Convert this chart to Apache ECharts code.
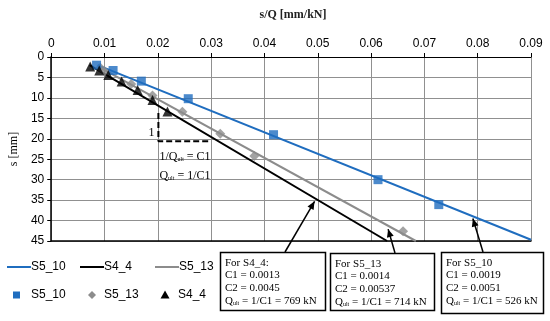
<!DOCTYPE html>
<html><head><meta charset="utf-8">
<script src="https://cdn.jsdelivr.net/npm/echarts@6/dist/echarts.min.js"></script>
<style>html,body{margin:0;padding:0;background:#fff}#c{width:550px;height:321px}</style>
</head><body><div id="c"></div>
<script>
// ---- data ----
const xTicks = [0, 0.01, 0.02, 0.03, 0.04, 0.05, 0.06, 0.07, 0.08, 0.09];
const yTicks = [0, 5, 10, 15, 20, 25, 30, 35, 40, 45];
const s5_10_pts = [[0.0085,2.0],[0.0116,3.3],[0.0169,5.9],[0.0257,10.2],[0.0417,19.0],[0.0613,30.0],[0.0727,36.1]];
const s5_13_pts = [[0.0092,2.6],[0.0101,3.6],[0.0150,6.6],[0.0190,9.4],[0.0246,13.4],[0.0317,18.8],[0.0381,24.2],[0.0660,42.6]];
const s4_4_pts  = [[0.0073,2.3],[0.0090,3.3],[0.0107,4.4],[0.0132,6.0],[0.0162,8.1],[0.0190,10.5],[0.0218,13.3]];
const s5_10_fit = [[0.0087,2.0],[0.0900,44.7]];
const s4_4_fit  = [[0.0072,2.0],[0.0630,45.0]];
const s5_13_fit = [[0.0090,2.5],[0.0684,45.0]];
const slopeGuide = [[0.0201,13.7],[0.0201,20.6],[0.0299,20.6]];
const boxTexts = [
  ['For S4_4:', 'C1 = 0.0013', 'C2 = 0.0045', '769'],
  ['For S5_13', 'C1 = 0.0014', 'C2 = 0.00537', '714'],
  ['For S5_10', 'C1 = 0.0019', 'C2 = 0.0051', '526']
];
const arrowTips = [[0.0494,35.3],[0.0632,42.1],[0.0791,39.5]];

const BLUE = '#1f6dbf', GRAY = '#8c8c8c', BLACK = '#000';
const SANS = 'Liberation Sans, Arial, sans-serif';
const SERIF = 'Liberation Serif, Times New Roman, serif';

const chart = echarts.init(document.getElementById('c'), null, {renderer:'canvas'});
const option = {
  animation: false,
  backgroundColor: '#fff',
  title: {text: 's/Q [mm/kN]', left: 288, top: 4, textAlign: 'center',
    textStyle: {fontFamily: SERIF, fontSize: 12, fontWeight: 'bold', color: '#222'}},
  grid: {left: 46, right: 19, top: 57, bottom: 80},
  xAxis: [{
    type: 'value', position: 'top', min: 0, max: 0.09, interval: 0.01,
    axisLine: {show: true, lineStyle: {color: '#000', width: 1}},
    axisTick: {show: true, length: 4, lineStyle: {color: '#000'}},
    axisLabel: {fontFamily: SANS, fontSize: 12, color: '#000', margin: 7,
      formatter: v => String(+v.toFixed(2))},
    splitLine: {show: true, lineStyle: {color: '#909090', width: 1}}
  }, {
    type: 'value', position: 'bottom', min: 0, max: 0.09,
    axisLine: {show: true, lineStyle: {color: '#000', width: 1.5}},
    axisTick: {show: false}, axisLabel: {show: false}, splitLine: {show: false}
  }],
  yAxis: {
    type: 'value', inverse: true, min: 0, max: 45, interval: 5,
    name: 's [mm]', nameLocation: 'middle', nameRotate: 90, nameGap: 29,
    nameTextStyle: {fontFamily: SERIF, fontSize: 12, color: '#000'},
    axisLine: {show: true, lineStyle: {color: '#000', width: 1.5}},
    axisTick: {show: true, length: 4, lineStyle: {color: '#000'}},
    axisLabel: {fontFamily: SANS, fontSize: 12, color: '#000', margin: 7},
    splitLine: {show: true, lineStyle: {color: '#909090', width: 1}}
  },
  series: [
    {type: 'line', data: slopeGuide, symbol: 'none', lineStyle: {color: '#000', width: 2, type: [6, 3]}, z: 2},
    {type: 'line', data: s5_13_fit, symbol: 'none', lineStyle: {color: GRAY, width: 2}, z: 3},
    {type: 'line', data: s4_4_fit, symbol: 'none', lineStyle: {color: BLACK, width: 2}, z: 3},
    {type: 'line', data: s5_10_fit, symbol: 'none', lineStyle: {color: BLUE, width: 2}, z: 3},
    {type: 'scatter', data: s5_13_pts, symbol: 'diamond', symbolSize: 10, itemStyle: {color: GRAY}, z: 4},
    {type: 'scatter', data: s5_10_pts, symbol: 'rect', symbolSize: 9, itemStyle: {color: BLUE}, z: 4},
    {type: 'scatter', data: s4_4_pts, symbol: 'triangle', symbolSize: 10, itemStyle: {color: BLACK}, z: 5}
  ]
};
chart.setOption(option);

const px = p => chart.convertToPixel({xAxisIndex: 0, yAxisIndex: 0}, p);
const g = [];
// annotation text near slope guide
const one = px([0.0201, 18.6]);
g.push({type: 'text', x: one[0] - 4, y: one[1], style: {text: '1', font: '12px ' + SERIF, fill: '#000', align: 'right', verticalAlign: 'middle'}});
const f1 = px([0.0203, 24.3]);
g.push({type: 'text', x: f1[0], y: f1[1], style: {
  text: '{a|1/Q}{s|ult}{a| = C1}', verticalAlign: 'middle',
  rich: {a: {font: '12px ' + SERIF, fill: '#000'}, s: {font: '6px ' + SERIF, fill: '#000', padding: [6, 0, 0, 0]}}}});
const f2 = px([0.0203, 29.0]);
g.push({type: 'text', x: f2[0], y: f2[1], style: {
  text: '{a|Q}{s|ult}{a| = 1/C1}', verticalAlign: 'middle',
  rich: {a: {font: '12px ' + SERIF, fill: '#000'}, s: {font: '6px ' + SERIF, fill: '#000', padding: [6, 0, 0, 0]}}}});

// boxes
const boxes = [[220, 252, 105, 58], [330, 253, 104, 57], [441, 252, 102, 61]];
const starts = [[285, 252], [395, 253], [483, 252]];
boxes.forEach((b, i) => {
  g.push({type: 'rect', shape: {x: b[0] + 0.5, y: b[1] + 0.5, width: b[2], height: b[3]},
    style: {fill: '#fff', stroke: '#000', lineWidth: 1.5}, z: 10});
  const t = boxTexts[i];
  const lines = [t[0], t[1], t[2]];
  lines.forEach((s, k) => {
    g.push({type: 'text', x: b[0] + 5, y: b[1] + 11 + k * 12.6, z: 11,
      style: {text: s, font: '11px ' + SERIF, fill: '#000', verticalAlign: 'middle'}});
  });
  g.push({type: 'text', x: b[0] + 5, y: b[1] + 11 + 3 * 12.6, z: 11, style: {
    text: '{a|Q}{s|ult}{a| = 1/C1 = ' + t[3] + ' kN}', verticalAlign: 'middle',
    rich: {a: {font: '11px ' + SERIF, fill: '#000'}, s: {font: '6px ' + SERIF, fill: '#000', padding: [5, 0, 0, 0]}}}});
  // arrow
  const tip = px(arrowTips[i]);
  const st = starts[i];
  g.push({type: 'line', shape: {x1: st[0], y1: st[1], x2: tip[0], y2: tip[1]}, style: {stroke: '#000', lineWidth: 1.5}, z: 12});
  const dx = tip[0] - st[0], dy = tip[1] - st[1], L = Math.hypot(dx, dy);
  const ux = dx / L, uy = dy / L, hl = 8, hw = 3.5;
  g.push({type: 'polygon', z: 12, shape: {points: [
    [tip[0], tip[1]],
    [tip[0] - ux * hl - uy * hw, tip[1] - uy * hl + ux * hw],
    [tip[0] - ux * hl + uy * hw, tip[1] - uy * hl - ux * hw]]}, style: {fill: '#000'}});
});

// legend
const ly1 = 267, ly2 = 295;
const legLines = [[7, 'S5_10', BLUE], [80, 'S4_4', BLACK], [155, 'S5_13', GRAY]];
legLines.forEach(l => {
  g.push({type: 'line', shape: {x1: l[0], y1: ly1, x2: l[0] + 24, y2: ly1}, style: {stroke: l[2], lineWidth: 2}});
  g.push({type: 'text', x: l[0] + 24, y: ly1, style: {text: l[1], font: '12px ' + SANS, fill: '#000', verticalAlign: 'middle'}});
});
g.push({type: 'rect', shape: {x: 13, y: ly2 - 3.5, width: 7, height: 7}, style: {fill: BLUE}});
g.push({type: 'text', x: 31, y: ly2, style: {text: 'S5_10', font: '12px ' + SANS, fill: '#000', verticalAlign: 'middle'}});
g.push({type: 'polygon', shape: {points: [[92, ly2 - 4], [96, ly2], [92, ly2 + 4], [88, ly2]]}, style: {fill: GRAY}});
g.push({type: 'text', x: 104, y: ly2, style: {text: 'S5_13', font: '12px ' + SANS, fill: '#000', verticalAlign: 'middle'}});
g.push({type: 'polygon', shape: {points: [[165, ly2 - 4.5], [169.5, ly2 + 3.5], [160.5, ly2 + 3.5]]}, style: {fill: BLACK}});
g.push({type: 'text', x: 178, y: ly2, style: {text: 'S4_4', font: '12px ' + SANS, fill: '#000', verticalAlign: 'middle'}});

chart.setOption({graphic: g});
</script>
</body></html>
